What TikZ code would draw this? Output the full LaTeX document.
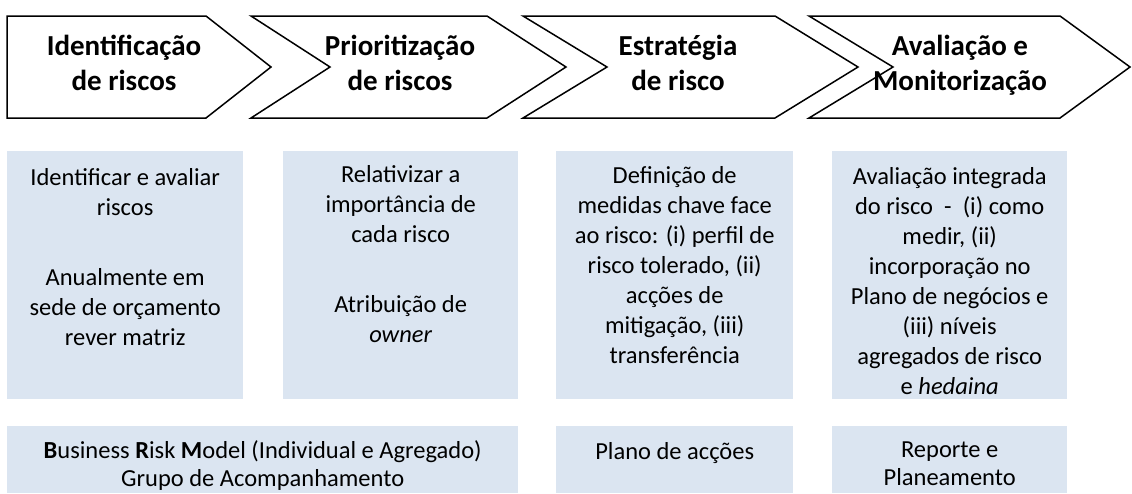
\documentclass[tikz,border=0pt]{standalone}
\usepackage{fontspec}
\setmainfont{Carlito}
\usepackage{xcolor}
\usepackage{tikz}
\usetikzlibrary{positioning,calc}

\definecolor{boxblue}{HTML}{DBE5F1}

\begin{document}
\begin{tikzpicture}[x=1pt, y=-1pt,
    chev/.style={draw=black, line width=1.5pt, line join=miter},
    hdr/.style={font=\fontsize{29}{35}\selectfont\bfseries, align=center, inner sep=0pt, anchor=north},
    bluebox/.style={fill=boxblue, inner sep=0pt, anchor=north west},
    boxtxt/.style={font=\fontsize{24.5}{30}\selectfont, align=center, inner sep=0pt},
    tooltxt/.style={boxtxt, font=\fontsize{24.5}{28}\selectfont}]
    \useasboundingbox (0,0) rectangle (1132,493);

    % process chevrons
    \draw[chev] (7,16) -- (206,16) -- (271,67) -- (206,118) -- (7,118) -- cycle;
    \draw[chev] (251,16) -- (487,16) -- (566,67) -- (487,118) -- (251,118) -- (330,67) -- cycle;
    \draw[chev] (523,16) -- (775,16) -- (858,67) -- (775,118) -- (523,118) -- (607,67) -- cycle;
    \draw[chev] (809,16) -- (1060,16) -- (1130,67) -- (1060,118) -- (809,118) -- (893,67) -- cycle;
    \node[hdr] (h1) at (124,35) {Identificação\\de riscos};
    \node[hdr] (h2) at (400,35) {Prioritização\\de riscos};
    \node[hdr] (h3) at (678,35) {Estratégia\\de risco};
    \node[hdr] (h4) at (960,35) {Avaliação e\\Monitorização};

    % detail boxes
    \node[bluebox, minimum width=236pt, minimum height=248pt] (b1) at (7,151) {};
    \node[bluebox, minimum width=235pt, minimum height=248pt] (b2) at (283,151) {};
    \node[bluebox, minimum width=237pt, minimum height=248pt] (b3) at (556,151) {};
    \node[bluebox, minimum width=235pt, minimum height=248pt] (b4) at (832,151) {};
    \node[boxtxt, below=17pt of b1.north] (t1) {Identificar e avaliar\\riscos\\[40pt]Anualmente em\\sede de orçamento\\rever matriz};
    \node[boxtxt, below=14pt of b2.north] (t2) {Relativizar a\\importância de\\cada risco\\[40pt]Atribuição de\\\textit{owner}};
    \node[boxtxt, below=15pt of b3.north] (t3) {Definição de\\medidas chave face\\ao risco: (i) perfil de\\risco tolerado, (ii)\\acções de\\mitigação, (iii)\\transferência};
    \node[boxtxt, below=16pt of b4.north] (t4) {Avaliação integrada\\do risco~~-~~(i) como\\medir, (ii)\\incorporação no\\Plano de negócios e\\(iii) níveis\\agregados de risco\\e \textit{hedaina}};

    % tools row
    \node[bluebox, minimum width=511pt, minimum height=67pt] (r1) at (7,426) {};
    \node[bluebox, minimum width=237pt, minimum height=67pt] (r2) at (556,426) {};
    \node[bluebox, minimum width=235pt, minimum height=67pt] (r3) at (832,426) {};
    \node[tooltxt, below=14pt of r1.north] (s1) {\textbf{B}usiness \textbf{R}isk \textbf{M}odel (Individual e Agregado)\\Grupo de Acompanhamento};
    \node[tooltxt, below=16pt of r2.north] (s2) {Plano de acções};
    \node[tooltxt, below=16pt of r3.north] (s3) {Reporte e\\Planeamento};
\end{tikzpicture}
\end{document}
